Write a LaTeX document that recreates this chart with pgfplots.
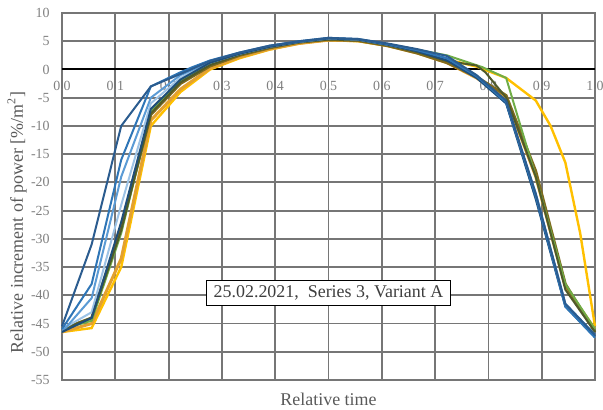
\documentclass[border=0pt]{standalone}
\usepackage{fontspec}
\setmainfont{Liberation Serif}
\usepackage{pgfplots}
\pgfplotsset{compat=1.18}
\definecolor{gridc}{HTML}{767676}
\definecolor{tickc}{HTML}{808080}
\definecolor{labc}{HTML}{595959}
\definecolor{cyellow}{HTML}{FFC000}
\definecolor{corange}{HTML}{E3A12F}
\definecolor{cbrown}{HTML}{7F6A1E}
\definecolor{cgreen}{HTML}{70AD47}
\definecolor{colive}{HTML}{4F5A2A}
\definecolor{cblueD}{HTML}{2B5C8F}
\definecolor{cblueM}{HTML}{2E75B6}
\definecolor{cblueL}{HTML}{5B9BD5}
\definecolor{cblueP}{HTML}{9DC3E6}
\definecolor{cblueX}{HTML}{1F4E79}
\begin{document}
\begin{tikzpicture}
\path[use as bounding box] (-31bp,-15bp) rectangle (270.5bp,190bp);
\begin{axis}[
  scale only axis, width=266.5bp, height=183.5bp,
  xmin=0, xmax=1, ymin=-55, ymax=10,
  xtick={0,0.1,0.2,0.3,0.4,0.5,0.6,0.7,0.8,0.9,1},
  ytick={-55,-50,-45,-40,-35,-30,-25,-20,-15,-10,-5,0,5,10},
  grid=major,
  major grid style={draw=gridc, line width=0.9bp},
  axis line style={draw=gridc, line width=0.9bp},
  major tick length=0pt,
  /pgf/number format/assume math mode=true,
  tick label style={font=\fontsize{7}{8}\selectfont, text=tickc},
  xticklabel style={anchor=center, yshift=146.8bp, /pgf/number format/.cd, fixed, fixed zerofill, precision=1},
  yticklabel style={anchor=east, inner sep=0pt, xshift=-6bp},
  extra y ticks={0},
  extra y tick labels={},
  extra y tick style={major grid style={draw=black, line width=1bp}},
  xlabel={Relative time},
  xlabel style={at={(axis description cs:0.5,-0.052)}, anchor=center, font=\fontsize{9}{10}\selectfont, text=labc},
  ylabel={Relative increment of power [\%/m\textsuperscript{2}]},
  ylabel style={at={(axis description cs:-0.0844,0.43)}, anchor=center, font=\fontsize{9}{10}\selectfont, text=labc},
  clip=false,
]
% yellow
\addplot[cyellow, line width=1.2bp] coordinates {
(0,-46.5)(0.0556,-45.8)(0.1111,-35)(0.1667,-10)(0.2222,-4)(0.2778,0)(0.3333,2)(0.3889,3.5)(0.4444,4.6)(0.5,5.2)(0.5556,5.0)(0.6111,4.2)(0.6667,3.0)(0.7222,1.8)(0.7778,0.5)(0.8333,-1.5)(0.8889,-5.5)(0.9167,-10)(0.9444,-16.5)(0.9722,-29)(1,-45.5)};
% orange
\addplot[corange, line width=1.5bp] coordinates {
(0,-46.5)(0.0556,-45)(0.1111,-33.5)(0.1667,-9)(0.2222,-3.5)(0.2778,0.2)(0.3333,2.2)(0.3889,3.6)(0.4444,4.6)(0.5,5.2)(0.5556,5.1)(0.6111,4.2)(0.6667,2.9)(0.7222,1.2)(0.7778,-1.5)(0.8333,-5)(0.8889,-19)(0.9444,-38.5)(1,-46)};
% brown
\addplot[cbrown, line width=1.4bp] coordinates {
(0,-46)(0.0556,-44)(0.1111,-28)(0.1667,-8)(0.2222,-2.5)(0.2778,0.6)(0.3333,2.5)(0.3889,3.8)(0.4444,4.8)(0.5,5.3)(0.5556,5.1)(0.6111,4.2)(0.6667,2.9)(0.7222,1.2)(0.7778,-1.3)(0.8333,-4.6)(0.8889,-18)(0.9444,-38)(1,-46.5)};
% green
\addplot[cgreen, line width=1bp] coordinates {
(0,-46)(0.0556,-44.5)(0.1111,-29)(0.1667,-7.5)(0.2222,-2)(0.2778,1)(0.3333,2.7)(0.3889,4)(0.4444,4.9)(0.5,5.4)(0.5556,5.3)(0.6111,4.5)(0.6667,3.5)(0.7222,2.5)(0.7889,0.4)(0.8333,-1.5)(0.8889,-19)(0.9444,-38)(1,-46)};
% olive
\addplot[colive, line width=1bp] coordinates {
(0,-46)(0.0556,-44)(0.1111,-28.5)(0.1667,-7.8)(0.2222,-2.3)(0.2778,0.8)(0.3333,2.6)(0.3889,3.9)(0.4444,4.8)(0.5,5.3)(0.5556,5.2)(0.6111,4.3)(0.6667,3.1)(0.7222,1.5)(0.7778,0.7)(0.7944,-0.5)(0.8333,-5)(0.8889,-19)(0.9444,-39)(1,-46.5)};
% pale blue
\addplot[cblueP, line width=1bp] coordinates {
(0,-46)(0.0556,-43)(0.1111,-24)(0.1667,-6)(0.2222,-1.5)(0.2778,1.2)(0.3333,2.8)(0.3889,4)(0.4444,4.9)(0.5,5.5)(0.5556,5.3)(0.6111,4.4)(0.6667,3.3)(0.7222,1.8)(0.7778,-1.4)(0.8333,-6)(0.8889,-22.5)(0.9444,-42)(1,-47.5)};
% light blue
\addplot[cblueL, line width=1bp] coordinates {
(0,-46.5)(0.0556,-40.5)(0.1111,-19)(0.1667,-5)(0.2222,-1)(0.2778,1.3)(0.3333,2.8)(0.3889,4.1)(0.4444,4.9)(0.5,5.5)(0.5556,5.3)(0.6111,4.4)(0.6667,3.3)(0.7222,1.8)(0.7778,-1.3)(0.8333,-6)(0.8889,-22)(0.9444,-41.5)(1,-47)};
% darkest blue
\addplot[cblueX, line width=1bp] coordinates {
(0,-46.5)(0.0556,-44)(0.1111,-27)(0.1667,-7)(0.2222,-1.8)(0.2778,1.2)(0.3333,2.8)(0.3889,4)(0.4444,4.9)(0.5,5.5)(0.5556,5.3)(0.6111,4.4)(0.6667,3.2)(0.7222,1.6)(0.7778,-1.5)(0.8333,-6)(0.8889,-23)(0.9444,-42)(1,-47.3)};
% medium blue
\addplot[cblueM, line width=1bp] coordinates {
(0,-46)(0.0556,-38)(0.1111,-16)(0.1667,-3)(0.2222,-0.5)(0.2444,0.4)(0.2778,1.6)(0.3333,3)(0.3889,4.2)(0.4444,5)(0.5,5.6)(0.5556,5.4)(0.6111,4.5)(0.6667,3.4)(0.7222,2)(0.7778,-1.2)(0.8333,-5.8)(0.8889,-22.5)(0.9444,-42)(1,-47.5)};
% dark blue
\addplot[cblueD, line width=1bp] coordinates {
(0,-45.5)(0.0556,-31)(0.1111,-10)(0.1667,-3)(0.2222,-0.8)(0.2778,1.5)(0.3333,3)(0.3889,4.2)(0.4444,5)(0.5,5.6)(0.5556,5.4)(0.6111,4.6)(0.6667,3.6)(0.7222,2.4)(0.7778,-1)(0.8333,-5.5)(0.8889,-22)(0.9444,-41.5)(1,-47)};
\node[draw=black, fill=white, line width=0.6bp, inner xsep=3.5bp, inner ysep=2.5bp, font=\fontsize{9}{10}\selectfont, text=labc!70!black] at (axis cs:0.5,-39.6) {25.02.2021,\ \ Series 3, Variant A};
\end{axis}
\end{tikzpicture}
\end{document}
